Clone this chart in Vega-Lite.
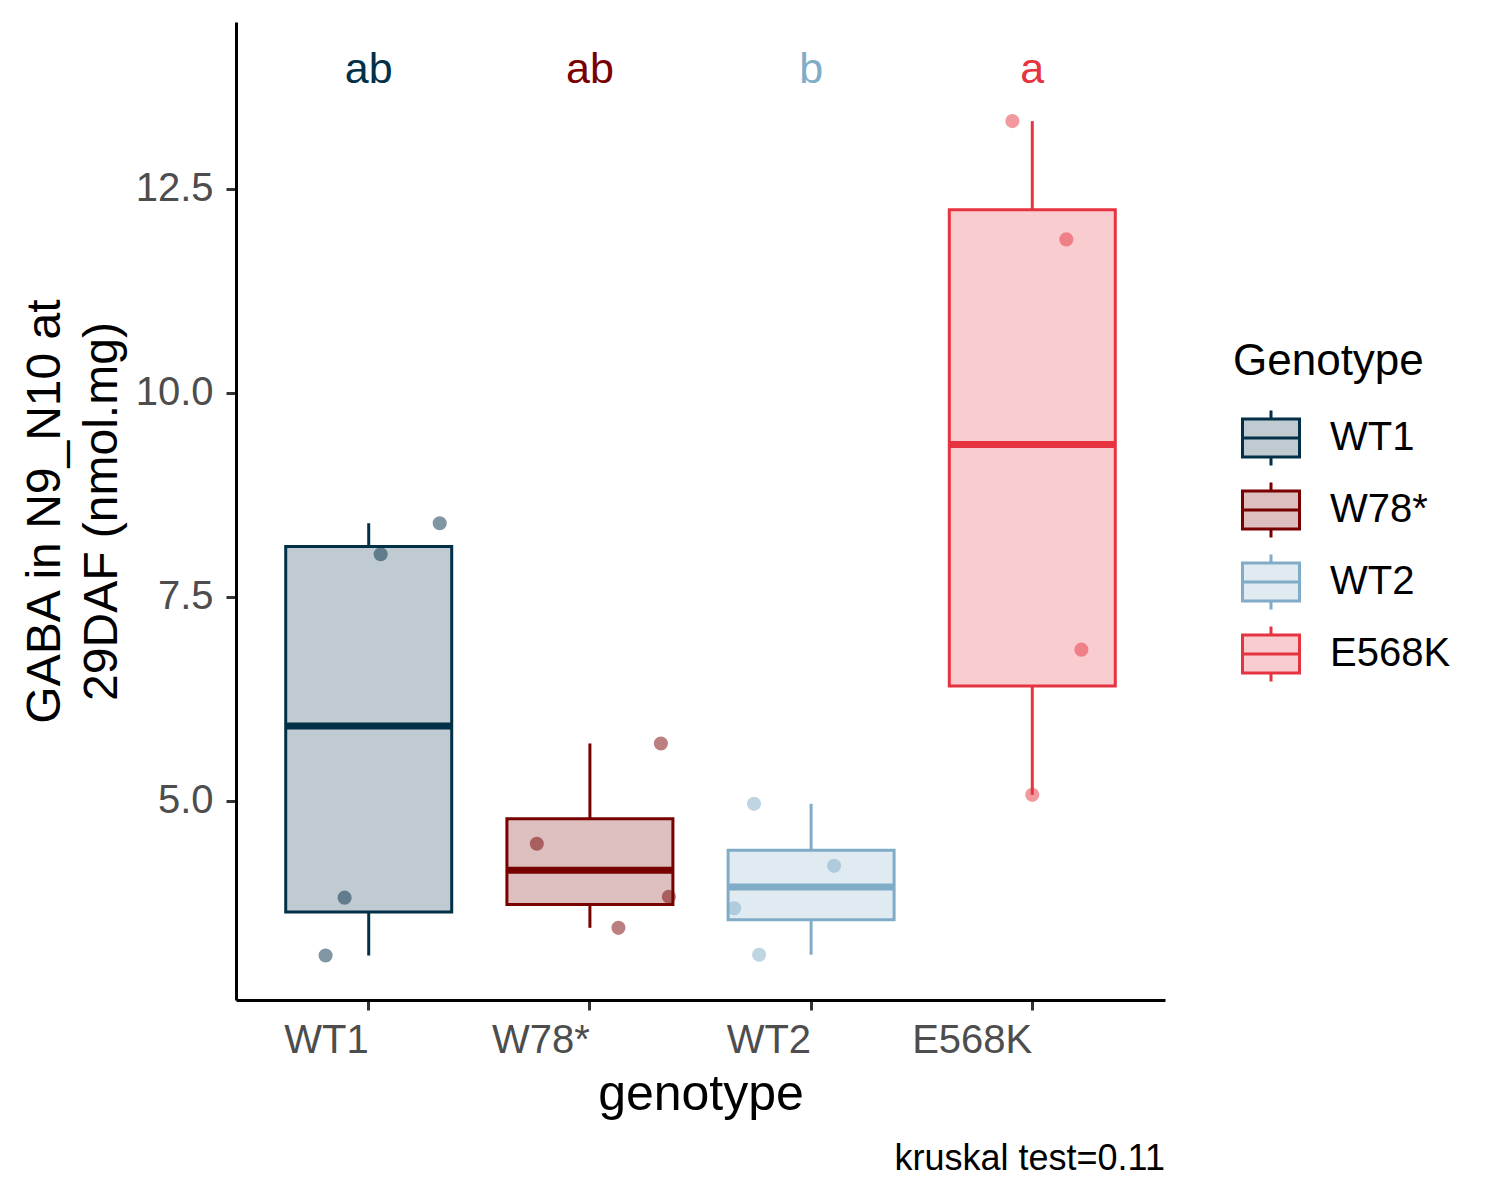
{
  "$schema": "https://vega.github.io/schema/vega-lite/v6.json",
  "width": 929,
  "height": 978,
  "autosize": {"type": "none"},
  "padding": {"left": 236, "top": 22, "right": 335, "bottom": 200},
  "background": "white",
  "config": {
    "font": "Liberation Sans",
    "view": {"stroke": null},
    "axis": {"grid": false}
  },
  "title": {
    "text": "kruskal test=0.11",
    "orient": "bottom",
    "anchor": "end",
    "frame": "group",
    "fontSize": 36,
    "fontWeight": "normal",
    "color": "black",
    "offset": 23
  },
  "data": {
    "values": [
      {"genotype": "WT1", "value": 3.10, "jitter": 0.305},
      {"genotype": "WT1", "value": 3.81, "jitter": 0.391},
      {"genotype": "WT1", "value": 8.02, "jitter": 0.554},
      {"genotype": "WT1", "value": 8.40, "jitter": 0.821},
      {"genotype": "W78*", "value": 3.44, "jitter": 0.629},
      {"genotype": "W78*", "value": 3.82, "jitter": 0.857},
      {"genotype": "W78*", "value": 4.47, "jitter": 0.260},
      {"genotype": "W78*", "value": 5.70, "jitter": 0.821},
      {"genotype": "WT2", "value": 3.11, "jitter": 0.265},
      {"genotype": "WT2", "value": 3.68, "jitter": 0.152},
      {"genotype": "WT2", "value": 4.20, "jitter": 0.604},
      {"genotype": "WT2", "value": 4.96, "jitter": 0.242},
      {"genotype": "E568K", "value": 5.07, "jitter": 0.500},
      {"genotype": "E568K", "value": 6.85, "jitter": 0.722},
      {"genotype": "E568K", "value": 11.88, "jitter": 0.654},
      {"genotype": "E568K", "value": 13.33, "jitter": 0.410}
    ]
  },
  "encoding": {
    "x": {
      "field": "genotype",
      "type": "nominal",
      "scale": {"domain": ["WT1", "W78*", "WT2", "E568K"], "paddingInner": 0, "paddingOuter": 0.1},
      "axis": {
        "title": "genotype",
        "titleFontSize": 50,
        "titleFontWeight": "normal",
        "titleColor": "black",
        "titleBaseline": "top",
        "titleY": 69,
        "labelAngle": 0,
        "labelAlign": "right",
        "labelFontSize": 40,
        "labelColor": "#4d4d4d",
        "labelPadding": 10,
        "tickSize": 10,
        "tickWidth": 3,
        "tickColor": "#333333",
        "domainColor": "black",
        "domainWidth": 3
      }
    },
    "color": {
      "field": "genotype",
      "type": "nominal",
      "scale": {
        "domain": ["WT1", "W78*", "WT2", "E568K"],
        "range": ["#023047", "#780000", "#80acc8", "#e63340"]
      },
      "legend": {
        "title": "Genotype",
        "orient": "none",
        "legendX": 997,
        "legendY": 318,
        "titleFontSize": 44,
        "titleFontWeight": "normal",
        "titleColor": "black",
        "titleLimit": 500,
        "titlePadding": 24,
        "labelFontSize": 40,
        "labelColor": "black",
        "labelOffset": 29,
        "labelLimit": 400,
        "symbolType": "M-1,-0.667H1V0.667H-1Z M-1,0H1 M0,-0.965V-0.667 M0,0.667V0.965",
        "symbolSize": 3249,
        "symbolOffset": 8,
        "rowPadding": 4,
        "padding": 0,
        "encode": {
          "symbols": {
            "update": {
              "fill": {"scale": "color", "field": "value"},
              "fillOpacity": {"value": 0.25},
              "stroke": {"scale": "color", "field": "value"},
              "strokeWidth": {"value": 3},
              "opacity": {"value": 1}
            }
          }
        }
      }
    }
  },
  "layer": [
    {
      "transform": [
        {"aggregate": [
          {"op": "min", "field": "value", "as": "lo"},
          {"op": "q1", "field": "value", "as": "q1"}
        ], "groupby": ["genotype"]}
      ],
      "mark": {"type": "rule", "strokeWidth": 3},
      "encoding": {
        "y": {"field": "lo", "type": "quantitative"},
        "y2": {"field": "q1"}
      }
    },
    {
      "transform": [
        {"aggregate": [
          {"op": "q3", "field": "value", "as": "q3"},
          {"op": "max", "field": "value", "as": "hi"}
        ], "groupby": ["genotype"]}
      ],
      "mark": {"type": "rule", "strokeWidth": 3},
      "encoding": {
        "y": {"field": "q3", "type": "quantitative"},
        "y2": {"field": "hi"}
      }
    },
    {
      "transform": [
        {"aggregate": [
          {"op": "q1", "field": "value", "as": "q1"},
          {"op": "q3", "field": "value", "as": "q3"}
        ], "groupby": ["genotype"]}
      ],
      "mark": {"type": "bar", "fillOpacity": 0.25, "strokeWidth": 3, "width": 166},
      "encoding": {
        "y": {"field": "q1", "type": "quantitative"},
        "y2": {"field": "q3"},
        "stroke": {
          "field": "genotype",
          "type": "nominal",
          "scale": {
            "domain": ["WT1", "W78*", "WT2", "E568K"],
            "range": ["#023047", "#780000", "#80acc8", "#e63340"]
          },
          "legend": null
        }
      }
    },
    {
      "transform": [
        {"aggregate": [
          {"op": "median", "field": "value", "as": "med"}
        ], "groupby": ["genotype"]}
      ],
      "mark": {"type": "tick", "thickness": 7, "size": 166, "opacity": 1},
      "encoding": {
        "y": {"field": "med", "type": "quantitative"}
      }
    },
    {
      "mark": {"type": "circle", "size": 200, "opacity": 0.5},
      "encoding": {
        "xOffset": {"field": "jitter", "type": "quantitative", "scale": {"domain": [0, 1]}},
        "y": {
          "field": "value",
          "type": "quantitative",
          "scale": {"domain": [2.555, 14.545], "nice": false, "zero": false},
          "axis": {
            "title": ["GABA in N9_N10 at", "29DAF (nmol.mg)"],
            "titleFontSize": 48,
            "titleFontWeight": "normal",
            "titleColor": "black",
            "titleAngle": -90,
            "titleAlign": "center",
            "titleBaseline": "top",
            "titleLineHeight": 57,
            "titleX": -215,
            "titleY": 489,
            "values": [5, 7.5, 10, 12.5],
            "format": ".1f",
            "labelFontSize": 40,
            "labelColor": "#4d4d4d",
            "labelPadding": 13,
            "tickSize": 10,
            "tickWidth": 3,
            "tickColor": "#333333",
            "domainColor": "black",
            "domainWidth": 3
          }
        }
      }
    },
    {
      "data": {
        "values": [
          {"genotype": "WT1", "y": 14.0, "letter": "ab"},
          {"genotype": "W78*", "y": 14.0, "letter": "ab"},
          {"genotype": "WT2", "y": 14.0, "letter": "b"},
          {"genotype": "E568K", "y": 14.0, "letter": "a"}
        ]
      },
      "mark": {"type": "text", "fontSize": 43, "baseline": "middle", "align": "center", "dy": 4},
      "encoding": {
        "y": {"field": "y", "type": "quantitative"},
        "text": {"field": "letter"}
      }
    }
  ]
}
